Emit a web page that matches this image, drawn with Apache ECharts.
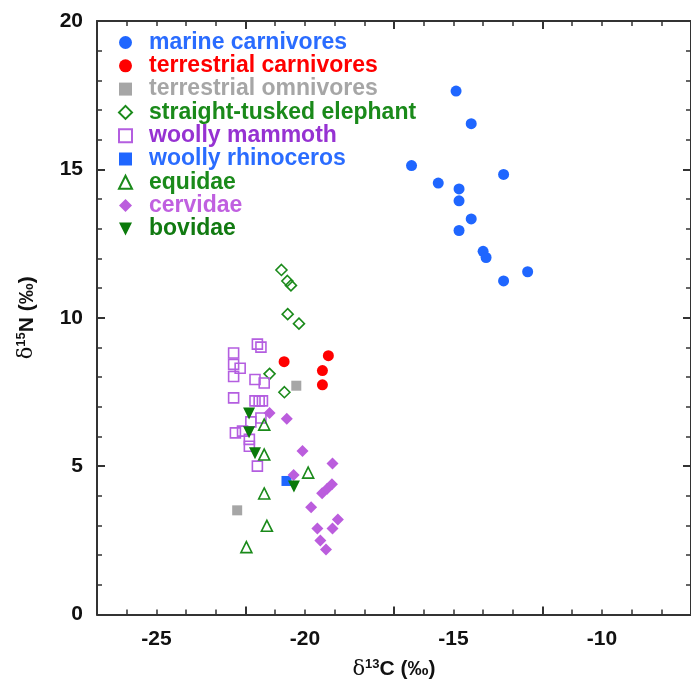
<!DOCTYPE html>
<html><head><meta charset="utf-8">
<script src="https://cdn.jsdelivr.net/npm/echarts@6/dist/echarts.min.js"></script>
<style>html,body{margin:0;padding:0;background:#fff}#c{width:691px;height:685px}</style>
</head><body><div id="c"></div>
<script>
var marineX = [-14.91,-14.40,-16.41,-13.31,-15.51,-14.81,-14.81,-14.40,-14.81,-14.00,-13.90,-12.50,-13.31];
var marineY = [17.64,16.54,15.13,14.83,14.54,14.34,13.94,13.33,12.94,12.24,12.03,11.55,11.24];
var terrCarnX = [-20.70,-19.21,-19.41,-19.41];
var terrCarnY = [8.52,8.72,8.22,7.74];
var terrOmnX = [-20.29,-22.28];
var terrOmnY = [7.71,3.51];
var elephantX = [-20.79,-20.59,-20.47,-20.58,-20.20,-21.19,-20.69];
var elephantY = [11.61,11.24,11.09,10.12,9.80,8.11,7.49];
var mammothX = [-21.60,-21.48,-22.40,-22.40,-22.18,-22.40,-21.68,-21.37,-22.40,-21.68,-21.54,-21.43,-21.48,-21.82,-22.34,-22.10,-21.87,-21.87,-21.60];
var mammothY = [9.11,9.01,8.81,8.43,8.30,8.02,7.92,7.80,7.30,7.20,7.20,7.20,6.62,6.49,6.12,6.18,5.90,5.67,5.00];
var rhinoX = [-20.62];
var rhinoY = [4.50];
var equidaeX = [-21.37,-21.37,-19.89,-21.37,-21.28,-21.97];
var equidaeY = [6.40,5.39,4.78,4.08,2.99,2.27];
var cervidaeX = [-21.19,-20.61,-20.08,-19.07,-20.38,-19.42,-19.25,-19.09,-19.79,-18.89,-19.58,-19.07,-19.48,-19.29];
var cervidaeY = [6.79,6.60,5.51,5.09,4.70,4.09,4.24,4.39,3.61,3.20,2.90,2.90,2.49,2.19];
var bovidaeX = [-21.88,-21.88,-21.68,-20.37];
var bovidaeY = [6.77,6.14,5.43,4.31];

var xTicks = [-25,-20,-15,-10];
var yTicks = [0,5,10,15,20];

function pts(xs, ys){ return xs.map(function(x,i){ return [x, ys[i]]; }); }

var groups = [
  {name:'marine carnivores', x:marineX, y:marineY, symbol:'circle', size:11, fill:'#1f66ff', border:null, text:'#2a6cff'},
  {name:'terrestrial carnivores', x:terrCarnX, y:terrCarnY, symbol:'circle', size:11, fill:'#ff0000', border:null, text:'#ff0000'},
  {name:'terrestrial omnivores', x:terrOmnX, y:terrOmnY, symbol:'rect', size:10, fill:'#a6a6a6', border:null, text:'#a6a6a6'},
  {name:'straight-tusked elephant', x:elephantX, y:elephantY, symbol:'diamond', size:11, fill:'rgba(255,255,255,0)', border:'#1a8a1a', text:'#1a8a1a'},
  {name:'woolly mammoth', x:mammothX, y:mammothY, symbol:'rect', size:10, fill:'rgba(255,255,255,0)', border:'#b45ee0', text:'#9632d2'},
  {name:'woolly rhinoceros', x:rhinoX, y:rhinoY, symbol:'rect', size:10, fill:'#1f66ff', border:null, text:'#2a6cff'},
  {name:'equidae', x:equidaeX, y:equidaeY, symbol:'triangle', size:11, fill:'rgba(255,255,255,0)', border:'#1a8a1a', text:'#1a8a1a'},
  {name:'cervidae', x:cervidaeX, y:cervidaeY, symbol:'diamond', size:12, fill:'#bb5ddd', border:null, text:'#c060e0'},
  {name:'bovidae', x:bovidaeX, y:bovidaeY, symbol:'triangle', rotate:180, size:12, fill:'#0a7a0a', border:null, text:'#117a11',
   legendIcon:'path://M0,0 L10,0 L5,10 Z'}
];

var series = groups.map(function(g){
  var s = {
    type:'scatter', name:g.name, data:pts(g.x,g.y), symbol:g.symbol, symbolSize:g.size,
    itemStyle:{color:g.fill, opacity:1}, emphasis:{disabled:true}, z:2
  };
  if (g.rotate) s.symbolRotate = g.rotate;
  if (g.border) { s.itemStyle.borderColor = g.border; s.itemStyle.borderWidth = 1.6; }
  return s;
});

var FONT = 'Liberation Sans, Arial, sans-serif';
var axisFont = {fontFamily:FONT, fontWeight:'bold', fontSize:21, color:'#111'};
var lineStyle = {color:'#333', width:2};
var minorStyle = {color:'#333', width:1.5};
var nameRich = {
  d:{fontFamily:'DejaVu Serif, serif', fontSize:21, color:'#111'},
  sup:{fontFamily:FONT, fontWeight:'bold', fontSize:13, color:'#111', verticalAlign:'bottom', padding:[0,0,11,0]},
  n:{fontFamily:FONT, fontWeight:'bold', fontSize:21, color:'#111'}
};

var chart = echarts.init(document.getElementById('c'), null, {renderer:'canvas'});
chart.setOption({
  animation:false,
  backgroundColor:'#fff',
  grid:{left:97, top:21, width:598, height:597, containLabel:false},
  legend:{
    orient:'vertical', left:113, top:26, itemWidth:13, itemHeight:13, itemGap:0.3,
    selectedMode:false,
    textStyle:{fontFamily:FONT, fontWeight:'bold', fontSize:23, lineHeight:23, padding:[0,0,0,12]},
    data:groups.map(function(g){
      var d = {name:g.name, textStyle:{color:g.text}};
      if (g.legendIcon) d.icon = g.legendIcon;
      return d;
    })
  },
  xAxis:[{
    type:'value', min:-27, max:-7, interval:5, position:'bottom',
    axisLine:{show:true, onZero:false, lineStyle:lineStyle},
    axisTick:{show:true, inside:true, length:8, lineStyle:lineStyle},
    minorTick:{show:true, splitNumber:5, length:5, lineStyle:minorStyle},
    splitLine:{show:false},
    axisLabel:Object.assign({margin:14, customValues:xTicks}, axisFont),
    name:'{d|δ}{sup|13}{n|C (‰)}', nameLocation:'middle', nameGap:43,
    nameTextStyle:{rich:nameRich}
  },{
    type:'value', min:-27, max:-7, interval:5, position:'top',
    axisLine:{show:true, onZero:false, lineStyle:lineStyle},
    axisTick:{show:true, inside:true, length:8, lineStyle:lineStyle},
    minorTick:{show:true, splitNumber:5, length:5, lineStyle:minorStyle},
    splitLine:{show:false}, axisLabel:{show:false}
  }],
  yAxis:[{
    type:'value', min:0, max:20, interval:5, position:'left',
    axisLine:{show:true, onZero:false, lineStyle:lineStyle},
    axisTick:{show:true, inside:true, length:8, lineStyle:lineStyle},
    minorTick:{show:true, splitNumber:5, length:5, lineStyle:minorStyle},
    splitLine:{show:false},
    axisLabel:Object.assign({margin:14, customValues:yTicks}, axisFont),
    name:'{d|δ}{sup|15}{n|N (‰)}', nameLocation:'middle', nameGap:58, nameRotate:90,
    nameTextStyle:{rich:nameRich}
  },{
    type:'value', min:0, max:20, interval:5, position:'right',
    axisLine:{show:true, onZero:false, lineStyle:lineStyle},
    axisTick:{show:true, inside:true, length:8, lineStyle:lineStyle},
    minorTick:{show:true, splitNumber:5, length:5, lineStyle:minorStyle},
    splitLine:{show:false}, axisLabel:{show:false}
  }],
  series:series
});
</script>
</body></html>
